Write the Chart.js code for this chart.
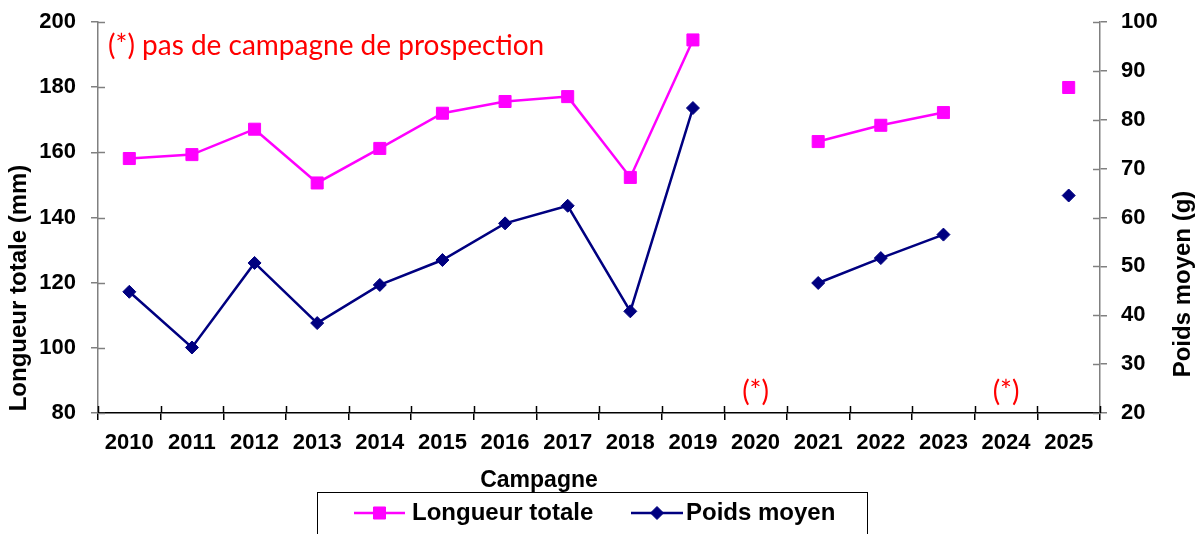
<!DOCTYPE html>
<html>
<head>
<meta charset="utf-8">
<script src="https://cdn.jsdelivr.net/npm/chart.js@4.4.1/dist/chart.umd.min.js"></script>
<style>
  html, body { margin: 0; padding: 0; background: #fff; }
  #wrap { width: 1200px; height: 534px; position: relative; }
</style>
</head>
<body>
<div id="wrap"><canvas id="c" width="1200" height="534"></canvas></div>
<script>
// Campagnes (années)
const years = ['2010','2011','2012','2013','2014','2015','2016','2017','2018','2019','2020','2021','2022','2023','2024','2025'];
// Longueur totale moyenne (mm) — axe gauche
const longueurTotale = [158.1, 159.3, 167.1, 150.6, 161.2, 172.0, 175.6, 177.1, 152.3, 194.5, null, 163.3, 168.3, 172.2, null, 179.9];
// Poids moyen (g) — axe droit
const poidsMoyen = [44.8, 33.4, 50.7, 38.4, 46.2, 51.3, 58.8, 62.4, 40.8, 82.4, null, 46.6, 51.7, 56.5, null, 64.5];
// Années sans campagne de prospection
const sansCampagne = ['2020', '2024'];

const leftTicks = [80, 100, 120, 140, 160, 180, 200];
const rightTicks = [20, 30, 40, 50, 60, 70, 80, 90, 100];

const MAGENTA = '#FF00FF';
const NAVY = '#000080';
const RED = '#FF0000';
const SANS = "'Liberation Sans', Arial, sans-serif";
const NOTE_FONT = "Lato, 'Open Sans', sans-serif";

Chart.defaults.font.family = SANS;

// Petits traits de graduation qui traversent les axes (partie intérieure)
const crossTicks = {
  id: 'crossTicks',
  afterDraw(chart) {
    const ctx = chart.ctx;
    const { x, y, y1 } = chart.scales;
    const len = 7;
    ctx.save();
    ctx.lineWidth = 1.5;
    ctx.strokeStyle = '#808080';
    y.ticks.forEach((t, i) => {
      const py = Math.round(y.getPixelForTick(i)) + 0.5;
      ctx.beginPath(); ctx.moveTo(y.right, py); ctx.lineTo(y.right + len, py); ctx.stroke();
    });
    y1.ticks.forEach((t, i) => {
      const py = Math.round(y1.getPixelForTick(i)) + 0.5;
      ctx.beginPath(); ctx.moveTo(y1.left - len, py); ctx.lineTo(y1.left, py); ctx.stroke();
    });
    ctx.strokeStyle = '#000';
    for (let i = 0; i <= years.length; i++) {
      const px = Math.round(x.getPixelForValue(i - 0.5)) + 0.5;
      ctx.beginPath(); ctx.moveTo(px, x.top - len); ctx.lineTo(px, x.top); ctx.stroke();
    }
    ctx.restore();
  }
};

// Titres d'axes, note, repères (*) et légende encadrée
const decorations = {
  id: 'decorations',
  afterDraw(chart) {
    const ctx = chart.ctx;
    const { x } = chart.scales;
    ctx.save();

    // Titres des axes
    ctx.fillStyle = '#000';
    ctx.font = 'bold 24px ' + SANS;
    ctx.textAlign = 'center';
    ctx.textBaseline = 'middle';
    ctx.save();
    ctx.translate(19, 288);
    ctx.rotate(-Math.PI / 2);
    ctx.fillText('Longueur totale (mm)', 0, 0);
    ctx.restore();
    ctx.save();
    ctx.translate(1183, 284);
    ctx.rotate(-Math.PI / 2);
    ctx.fillText('Poids moyen (g)', 0, 0);
    ctx.restore();
    ctx.font = 'bold 23px ' + SANS;
    ctx.fillText('Campagne', 539, 481);

    // Note
    ctx.fillStyle = RED;
    ctx.font = '28px ' + NOTE_FONT;
    ctx.textAlign = 'left';
    ctx.fillText('(*) pas de campagne de prospection', 108, 46);

    // Repères des années sans campagne
    ctx.textAlign = 'center';
    sansCampagne.forEach(yr => {
      const px = x.getPixelForValue(years.indexOf(yr));
      ctx.fillText('(*)', px, 392);
    });

    // Légende
    ctx.strokeStyle = '#000';
    ctx.lineWidth = 1;
    ctx.strokeRect(317.5, 492.5, 550, 60);
    const items = [
      { ds: chart.data.datasets[0], x0: 354, x1: 405, tx: 412 },
      { ds: chart.data.datasets[1], x0: 631, x1: 683, tx: 686 }
    ];
    const ly = 513;
    items.forEach(it => {
      ctx.strokeStyle = it.ds.borderColor;
      ctx.lineWidth = it.ds.borderWidth;
      ctx.beginPath(); ctx.moveTo(it.x0, ly); ctx.lineTo(it.x1, ly); ctx.stroke();
      ctx.fillStyle = it.ds.pointBackgroundColor;
      ctx.strokeStyle = it.ds.pointBorderColor;
      ctx.lineWidth = it.ds.pointBorderWidth;
      Chart.helpers.drawPoint(ctx, { pointStyle: it.ds.pointStyle, rotation: 0, radius: it.ds.pointRadius, borderWidth: it.ds.pointBorderWidth }, (it.x0 + it.x1) / 2, ly);
      ctx.fillStyle = '#000';
      ctx.font = 'bold 24px ' + SANS;
      ctx.textAlign = 'left';
      ctx.textBaseline = 'middle';
      ctx.fillText(it.ds.label, it.tx, ly);
    });
    ctx.restore();
  }
};

new Chart(document.getElementById('c'), {
  type: 'line',
  data: {
    labels: years,
    datasets: [
      {
        label: 'Longueur totale',
        data: longueurTotale,
        yAxisID: 'y',
        borderColor: MAGENTA,
        backgroundColor: MAGENTA,
        borderWidth: 2.5,
        pointStyle: 'rect',
        pointRadius: 8.5,
        pointHoverRadius: 8.5,
        pointBackgroundColor: MAGENTA,
        pointBorderColor: MAGENTA,
        pointBorderWidth: 1,
        spanGaps: false,
        tension: 0
      },
      {
        label: 'Poids moyen',
        data: poidsMoyen,
        yAxisID: 'y1',
        borderColor: NAVY,
        backgroundColor: NAVY,
        borderWidth: 2.5,
        pointStyle: 'rectRot',
        pointRadius: 6.5,
        pointHoverRadius: 6.5,
        pointBackgroundColor: NAVY,
        pointBorderColor: NAVY,
        pointBorderWidth: 1,
        spanGaps: false,
        tension: 0
      }
    ]
  },
  options: {
    responsive: false,
    animation: false,
    layout: { padding: { top: 22, left: 0, right: 0, bottom: 0 } },
    plugins: {
      legend: { display: false },
      tooltip: { enabled: false }
    },
    scales: {
      x: {
        type: 'category',
        offset: true,
        grid: { offset: true, drawOnChartArea: false, tickLength: 7, color: '#000', lineWidth: 1.5 },
        border: { color: '#000', width: 1.5 },
        ticks: { color: '#000', font: { size: 22, weight: 'bold' }, maxRotation: 0, autoSkip: false, padding: 10 },
        afterFit(s) { s.height = 121; s.paddingLeft = 0; s.paddingRight = 0; }
      },
      y: {
        position: 'left',
        min: 80, max: 200,
        afterBuildTicks(s) { s.ticks = leftTicks.map(v => ({ value: v })); },
        grid: { drawOnChartArea: false, tickLength: 7, color: '#808080', lineWidth: 1.5 },
        border: { color: '#808080', width: 1.5 },
        ticks: { color: '#000', font: { size: 22, weight: 'bold' }, padding: 15 },
        afterFit(s) { s.width = 98; s.paddingTop = 0; s.paddingBottom = 0; }
      },
      y1: {
        position: 'right',
        min: 20, max: 100,
        afterBuildTicks(s) { s.ticks = rightTicks.map(v => ({ value: v })); },
        grid: { drawOnChartArea: false, tickLength: 7, color: '#808080', lineWidth: 1.5 },
        border: { color: '#808080', width: 1.5 },
        ticks: { color: '#000', font: { size: 22, weight: 'bold' }, padding: 14 },
        afterFit(s) { s.width = 100; s.paddingTop = 0; s.paddingBottom = 0; }
      }
    }
  },
  plugins: [crossTicks, decorations]
});
</script>
</body>
</html>
